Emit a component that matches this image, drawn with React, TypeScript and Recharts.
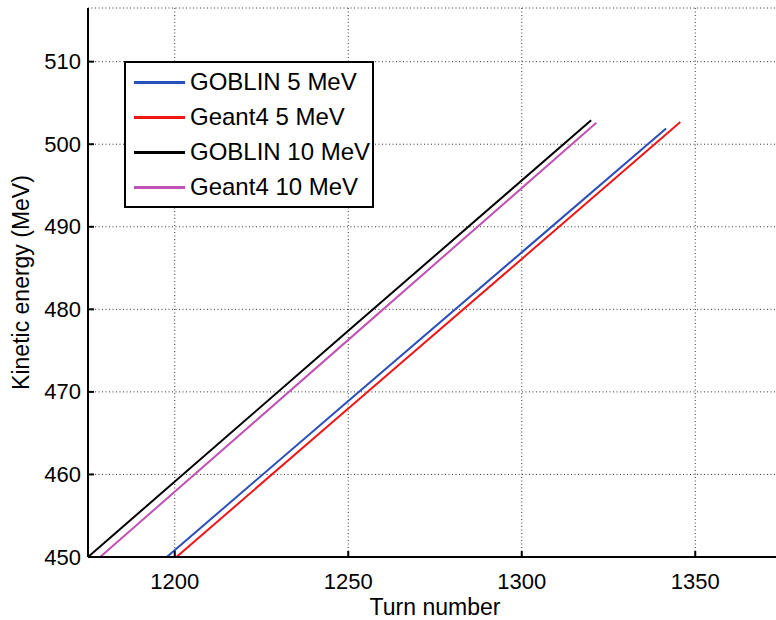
import React from 'react';
import { LineChart, Line, XAxis, YAxis, CartesianGrid, Legend } from 'recharts';

// Turn number vs kinetic energy
const goblin5Turns = [1197.7, 1250, 1300, 1341.6];
const goblin5Energy = [450, 468.9, 486.9, 501.9];
const geant5Turns = [1200.5, 1250, 1300, 1345.7];
const geant5Energy = [450, 468.0, 486.1, 502.7];
const goblin10Turns = [1175, 1250, 1320];
const goblin10Energy = [450, 477.4, 502.9];
const geant10Turns = [1178.5, 1250, 1321.5];
const geant10Energy = [450, 476.3, 502.6];

const xTicks = [1200, 1250, 1300, 1350];
const yTicks = [450, 460, 470, 480, 490, 500, 510];

const FONT = '"Liberation Sans", Arial, Helvetica, sans-serif';

const toPoints = (turns: number[], energy: number[]) =>
  turns.map((t, i) => ({ turn: t, energy: energy[i] }));

const series = [
  { name: 'GOBLIN 5 MeV', color: '#2a4fb8', data: toPoints(goblin5Turns, goblin5Energy) },
  { name: 'Geant4 5 MeV', color: '#f01616', data: toPoints(geant5Turns, geant5Energy) },
  { name: 'GOBLIN 10 MeV', color: '#000000', data: toPoints(goblin10Turns, goblin10Energy) },
  { name: 'Geant4 10 MeV', color: '#c052b4', data: toPoints(geant10Turns, geant10Energy) },
];

const BottomTick = (props: any) => {
  const { x, y, payload } = props;
  return (
    <g>
      <line x1={x} y1={y} x2={x} y2={y - 6} stroke="#000" strokeWidth={2} />
      <text x={x} y={y + 24} textAnchor="middle" dominantBaseline="central" fontSize={22} fontFamily={FONT} fill="#000">
        {payload.value}
      </text>
    </g>
  );
};

const TopTick = (props: any) => {
  const { x, y } = props;
  return <line x1={x} y1={y} x2={x} y2={y + 6} stroke="#000" strokeWidth={2} />;
};

const LeftTick = (props: any) => {
  const { x, y, payload } = props;
  return (
    <g>
      <line x1={x} y1={y} x2={x + 6} y2={y} stroke="#000" strokeWidth={2} />
      <text x={x - 7} y={y} textAnchor="end" dominantBaseline="central" fontSize={22} fontFamily={FONT} fill="#000">
        {payload.value}
      </text>
    </g>
  );
};

const renderLegend = () => (
  <div
    style={{
      width: 246,
      height: 143,
      border: '2px solid #000',
      background: '#fff',
      fontFamily: FONT,
      fontSize: 24,
      boxSizing: 'content-box',
    }}
  >
    {series.map((s, i) => (
      <div key={s.name} style={{ position: 'absolute', left: 0, top: 21 + i * 35 - 14, height: 28, display: 'flex', alignItems: 'center' }}>
        <div style={{ marginLeft: 10, width: 51, height: 3, background: s.color }} />
        <span style={{ marginLeft: 5, color: '#000', whiteSpace: 'nowrap' }}>{s.name}</span>
      </div>
    ))}
  </div>
);

const App: React.FC = () => {
  return (
    <div style={{ position: 'fixed', left: 0, top: 0, width: 776, height: 620, overflow: 'hidden', background: '#fff' }}>
      <LineChart width={790} height={620} margin={{ top: 8, right: 8, left: 0, bottom: 0 }}>
        <CartesianGrid stroke="#333" strokeWidth={1} strokeDasharray="1 2.5" />
        <XAxis
          dataKey="turn"
          type="number"
          domain={[1175, 1375]}
          ticks={xTicks}
          allowDataOverflow
          height={63}
          tickSize={0}
          tickMargin={0}
          tickLine={false}
          axisLine={{ stroke: '#000', strokeWidth: 2 }}
          tick={<BottomTick />}
          label={{ value: 'Turn number', position: 'insideBottom', offset: 5, fontSize: 23, fontFamily: FONT, fill: '#000' }}
        />
        <XAxis
          xAxisId="top"
          orientation="top"
          dataKey="turn"
          type="number"
          domain={[1175, 1375]}
          ticks={xTicks}
          allowDataOverflow
          height={0}
          tickSize={0}
          tickMargin={0}
          tickLine={false}
          axisLine={{ stroke: '#000', strokeWidth: 2 }}
          tick={<TopTick />}
        />
        <YAxis
          dataKey="energy"
          type="number"
          domain={[450, 516.5]}
          ticks={yTicks}
          allowDataOverflow
          width={88}
          tickSize={0}
          tickMargin={0}
          tickLine={false}
          axisLine={{ stroke: '#000', strokeWidth: 2 }}
          tick={<LeftTick />}
          label={{ value: 'Kinetic energy (MeV)', angle: -90, position: 'insideLeft', offset: 21, fontSize: 23, fontFamily: FONT, fill: '#000', style: { textAnchor: 'middle' } }}
        />
        <Legend
          layout="vertical"
          align="center"
          verticalAlign="middle"
          content={renderLegend}
          wrapperStyle={{ left: 124, top: 61, width: 250, height: 147 }}
        />
        {series.map((s) => (
          <Line
            key={s.name}
            data={s.data}
            dataKey="energy"
            name={s.name}
            type="linear"
            stroke={s.color}
            strokeWidth={2}
            dot={false}
            isAnimationActive={false}
          />
        ))}
      </LineChart>
    </div>
  );
};

export default App;
